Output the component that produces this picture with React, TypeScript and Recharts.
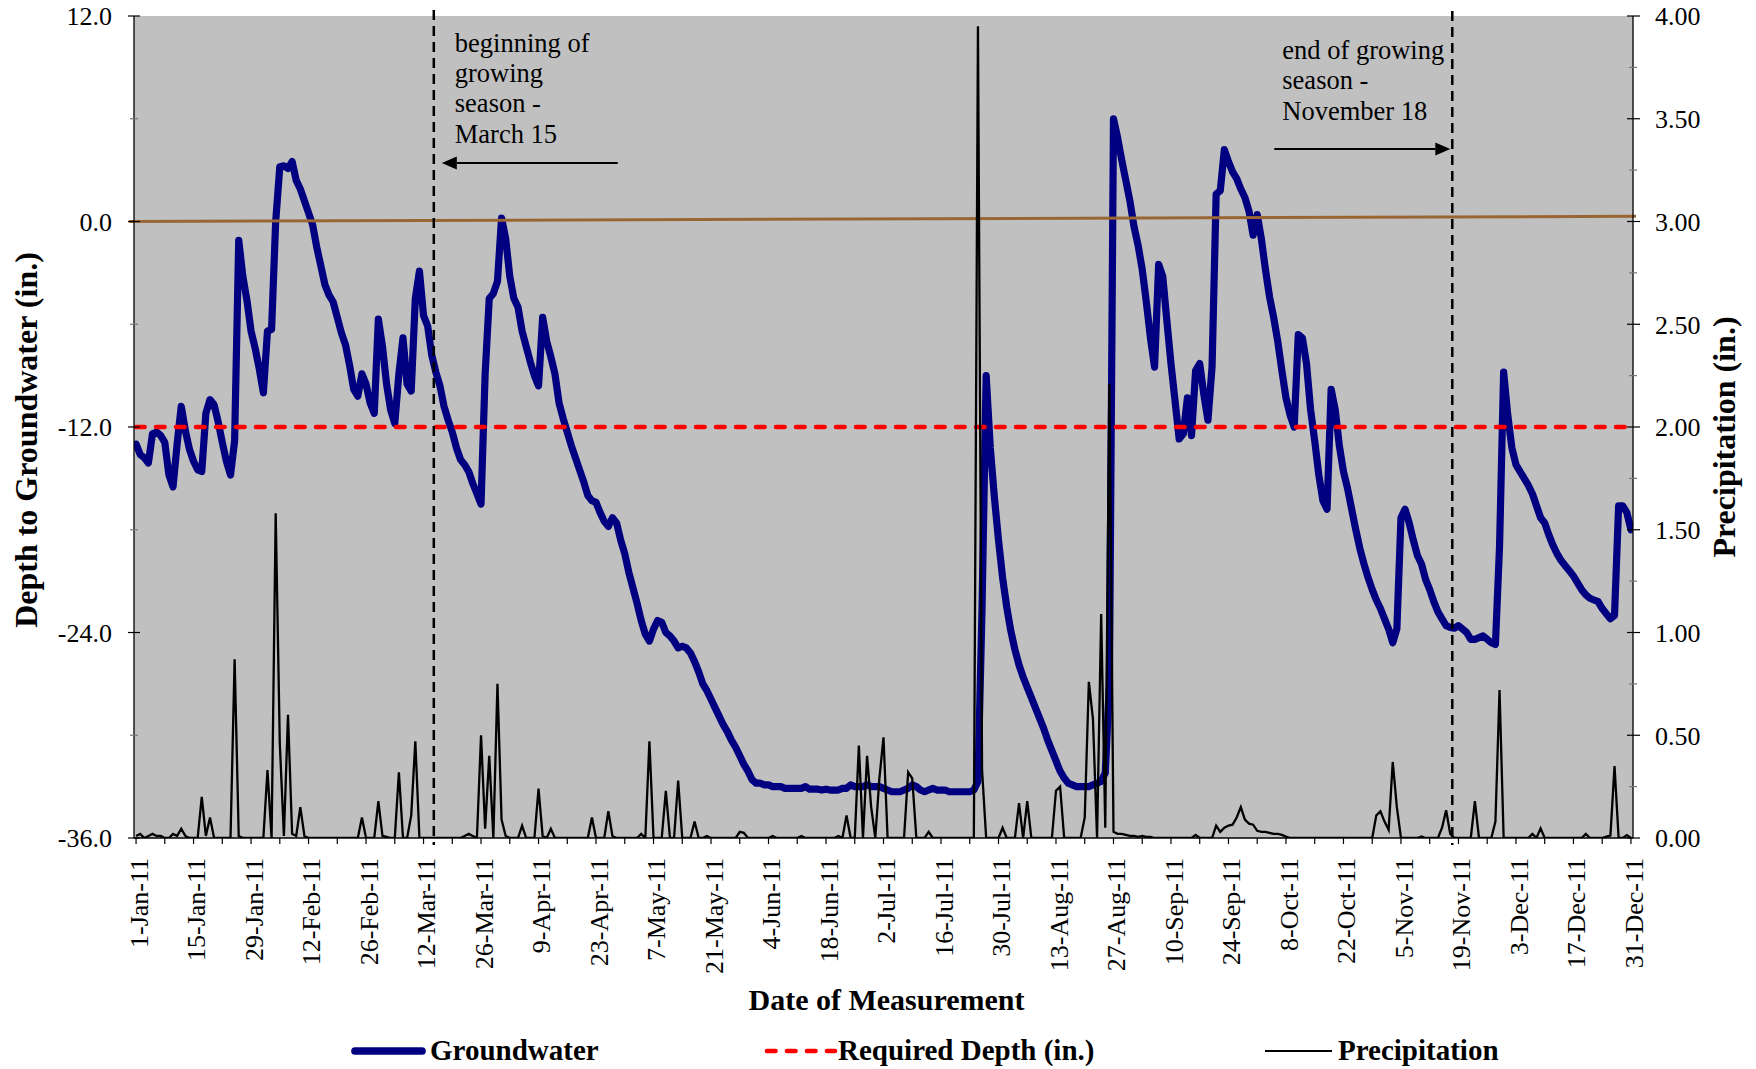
import React from 'react';
import { ComposedChart, Line, XAxis, YAxis, CartesianGrid, ReferenceLine } from 'recharts';

const FONT = "'Liberation Serif', 'Times New Roman', Times, serif";

// ---- Groundwater depth (in.), one value per day, by month ----
const gwJan = [-13.0, -13.6, -13.8, -14.1, -12.4, -12.3, -12.5, -12.9, -14.8, -15.5, -13.0, -10.8, -12.2, -13.3, -14.0, -14.5, -14.6, -11.2, -10.4, -10.7, -11.7, -12.9, -14.0, -14.8, -12.8, -1.1, -3.2, -4.6, -6.4, -7.4, -8.6];
const gwFeb = [-10.0, -6.4, -6.3, 0.0, 3.2, 3.25, 3.1, 3.5, 2.4, 1.9, 1.2, 0.5, -0.2, -1.5, -2.6, -3.7, -4.3, -4.7, -5.6, -6.5, -7.2, -8.4, -9.8, -10.2, -8.9, -9.5, -10.6, -11.2];
const gwMar = [-5.7, -7.3, -9.5, -11.0, -11.8, -8.9, -6.8, -9.5, -9.9, -4.5, -2.9, -5.5, -6.1, -7.8, -8.8, -9.6, -10.8, -11.6, -12.3, -13.2, -13.9, -14.2, -14.6, -15.3, -15.9, -16.5, -8.9, -4.5, -4.2, -3.5, 0.2];
const gwApr = [-1.0, -3.2, -4.5, -5.0, -6.4, -7.3, -8.2, -9.0, -9.6, -5.6, -7.0, -7.9, -8.9, -10.6, -11.5, -12.3, -13.1, -13.8, -14.5, -15.2, -16.0, -16.3, -16.4, -17.0, -17.5, -17.8, -17.3, -17.6, -18.6, -19.4];
const gwMay = [-20.5, -21.4, -22.3, -23.3, -24.1, -24.5, -23.8, -23.3, -23.4, -24.0, -24.2, -24.5, -24.9, -24.8, -24.9, -25.2, -25.7, -26.3, -27.0, -27.4, -27.9, -28.4, -28.9, -29.4, -29.8, -30.3, -30.7, -31.2, -31.7, -32.1, -32.6];
const gwJun = [-32.8, -32.8, -32.9, -32.9, -33.0, -33.0, -33.0, -33.1, -33.1, -33.1, -33.1, -33.1, -33.0, -33.15, -33.15, -33.15, -33.2, -33.15, -33.2, -33.2, -33.2, -33.1, -33.1, -32.9, -33.0, -33.0, -33.0, -32.9, -33.0, -33.0];
const gwJul = [-33.0, -33.1, -33.2, -33.3, -33.3, -33.3, -33.2, -33.1, -32.9, -33.0, -33.2, -33.3, -33.2, -33.1, -33.2, -33.2, -33.2, -33.3, -33.3, -33.3, -33.3, -33.3, -33.3, -33.2, -32.7, -22.5, -9.0, -13.2, -16.1, -18.6, -20.8];
const gwAug = [-22.5, -23.9, -25.0, -25.9, -26.6, -27.2, -27.8, -28.4, -29.0, -29.6, -30.3, -30.9, -31.5, -32.1, -32.5, -32.8, -32.9, -33.0, -33.0, -33.0, -33.0, -32.9, -32.8, -32.7, -32.2, -27.0, 6.0, 4.9, 3.6, 2.4, 1.2];
const gwSep = [-0.3, -1.4, -2.8, -4.7, -6.8, -8.5, -2.5, -3.2, -5.8, -8.3, -10.5, -12.7, -12.4, -10.3, -12.5, -8.7, -8.3, -10.1, -11.6, -8.5, 1.6, 1.8, 4.2, 3.5, 2.9, 2.5, 1.9, 1.4, 0.6, -0.8];
const gwOct = [0.4, -1.0, -2.8, -4.4, -5.6, -7.0, -8.7, -10.3, -11.3, -12.0, -6.6, -6.8, -8.3, -11.0, -12.8, -14.8, -16.3, -16.8, -9.8, -11.0, -13.1, -14.6, -15.6, -16.8, -18.0, -19.1, -20.0, -20.8, -21.5, -22.1, -22.6];
const gwNov = [-23.2, -23.8, -24.6, -23.8, -17.3, -16.8, -17.6, -18.6, -19.5, -20.0, -20.9, -21.5, -22.2, -22.8, -23.2, -23.6, -23.7, -23.75, -23.6, -23.8, -24.0, -24.4, -24.4, -24.3, -24.2, -24.4, -24.6, -24.7, -19.0, -8.8];
const gwDec = [-11.3, -13.2, -14.2, -14.6, -15.0, -15.4, -15.9, -16.6, -17.3, -17.6, -18.3, -18.9, -19.4, -19.8, -20.1, -20.4, -20.7, -21.1, -21.5, -21.8, -22.0, -22.1, -22.2, -22.6, -22.9, -23.2, -23.0, -16.6, -16.6, -17.0, -18.0];

// ---- Daily precipitation (in.), by month ----
const prJan = [0.01, 0.02, 0, 0.01, 0.02, 0.01, 0.01, 0, 0, 0.02, 0.01, 0.045, 0.01, 0, 0, 0, 0.2, 0.01, 0.1, 0, 0, 0, 0, 0, 0.87, 0.01, 0, 0, 0, 0, 0];
const prFeb = [0, 0.33, 0, 1.58, 0.46, 0.01, 0.6, 0.02, 0.01, 0.15, 0.01, 0, 0, 0, 0, 0, 0, 0, 0, 0, 0, 0, 0, 0, 0.1, 0, 0, 0];
const prMar = [0.18, 0.01, 0.005, 0, 0, 0.32, 0, 0, 0.11, 0.47, 0, 0, 0, 0, 0, 0, 0, 0, 0, 0, 0, 0.01, 0.02, 0.01, 0, 0.5, 0.045, 0.4, 0, 0.75, 0.09];
const prApr = [0.01, 0, 0, 0, 0.06, 0, 0, 0, 0.24, 0.01, 0, 0.045, 0, 0, 0, 0, 0, 0, 0, 0, 0, 0.1, 0, 0, 0, 0.13, 0.01, 0, 0, 0];
const prMay = [0, 0, 0, 0.02, 0, 0.47, 0, 0, 0, 0.23, 0, 0, 0.28, 0, 0, 0, 0.08, 0, 0, 0.01, 0, 0, 0, 0, 0, 0, 0, 0.03, 0.025, 0, 0];
const prJun = [0, 0, 0, 0, 0.01, 0, 0, 0, 0, 0, 0, 0.01, 0, 0, 0, 0, 0, 0, 0, 0, 0.01, 0, 0.11, 0, 0, 0.45, 0, 0.4, 0.15, 0];
const prJul = [0.29, 0.49, 0, 0, 0, 0, 0, 0.32, 0.29, 0, 0, 0, 0.03, 0, 0, 0, 0, 0, 0, 0, 0, 0, 0, 0, 3.95, 0.33, 0, 0, 0, 0, 0.05];
const prAug = [0, 0, 0, 0.17, 0, 0.18, 0, 0, 0, 0, 0, 0, 0.23, 0.25, 0, 0, 0, 0, 0, 0.1, 0.76, 0.58, 0, 1.09, 0.05, 2.21, 0.03, 0.02, 0.02, 0.015, 0.01];
const prSep = [0.01, 0.005, 0.01, 0.005, 0.005, 0, 0, 0, 0, 0, 0, 0, 0, 0, 0, 0.015, 0, 0, 0, 0, 0.06, 0.03, 0.05, 0.06, 0.065, 0.1, 0.15, 0.09, 0.07, 0.065];
const prOct = [0.035, 0.03, 0.03, 0.025, 0.02, 0.02, 0.015, 0.007, 0, 0, 0, 0, 0, 0, 0, 0, 0, 0, 0, 0, 0, 0, 0, 0, 0, 0, 0, 0, 0, 0.11, 0.13];
const prNov = [0.08, 0.04, 0.37, 0.15, 0, 0, 0, 0, 0, 0.007, 0, 0, 0, 0, 0.05, 0.135, 0.02, 0, 0, 0, 0, 0, 0.18, 0, 0, 0, 0, 0.08, 0.72, 0];
const prDec = [0, 0, 0, 0, 0, 0, 0.02, 0, 0.047, 0, 0, 0, 0, 0, 0, 0, 0, 0, 0, 0.02, 0, 0, 0, 0, 0.007, 0.012, 0.35, 0, 0, 0.014, 0];

const requiredDepth = -12;

// ground surface line (brown), from first to last day
const groundDays = [0, 364];
const groundLevel = [0.0, 0.3];

// growing-season markers (day index, boundary of the day)
const seasonStartDay = 72.5;
const seasonEndDay = 320.5;
const seasonStartText = ['beginning of', 'growing', 'season -', 'March 15'];
const seasonEndText = ['end of growing', 'season -', 'November 18'];

// axis ticks
const xTickDays = Array.from({ length: 53 }, (_, i) => i * 7);
const xLabelDays = [0, 14, 28, 42, 56, 70, 84, 98, 112, 126, 140, 154, 168, 182, 196, 210, 224, 238, 252, 266, 280, 294, 308, 322, 336, 350, 364];
const xTickLabels = ['1-Jan-11', '15-Jan-11', '29-Jan-11', '12-Feb-11', '26-Feb-11', '12-Mar-11', '26-Mar-11', '9-Apr-11', '23-Apr-11', '7-May-11', '21-May-11', '4-Jun-11', '18-Jun-11', '2-Jul-11', '16-Jul-11', '30-Jul-11', '13-Aug-11', '27-Aug-11', '10-Sep-11', '24-Sep-11', '8-Oct-11', '22-Oct-11', '5-Nov-11', '19-Nov-11', '3-Dec-11', '17-Dec-11', '31-Dec-11'];
const leftTicks = [-36, -30, -24, -18, -12, -6, 0, 6, 12];
const leftMajor = [-36, -24, -12, 0, 12];
const rightTicks = [0, 0.25, 0.5, 0.75, 1, 1.25, 1.5, 1.75, 2, 2.25, 2.5, 2.75, 3, 3.25, 3.5, 3.75, 4];

const groundwater = [...gwJan, ...gwFeb, ...gwMar, ...gwApr, ...gwMay, ...gwJun, ...gwJul, ...gwAug, ...gwSep, ...gwOct, ...gwNov, ...gwDec];
const precipitation = [...prJan, ...prFeb, ...prMar, ...prApr, ...prMay, ...prJun, ...prJul, ...prAug, ...prSep, ...prOct, ...prNov, ...prDec];

const data = groundwater.map((g, i) => ({
  day: i,
  groundwater: g,
  required: requiredDepth,
  precipitation: precipitation[i],
}));

const W = 1756;
const H = 1069;

const LeftTick = (props: any) => {
  const { x, y, payload } = props;
  const v = payload.value;
  const major = leftMajor.includes(v);
  return (
    <g>
      <line x1={x - (major ? 6 : 4)} x2={x + (major ? 6 : 4)} y1={y} y2={y} stroke={major ? '#000' : '#777'} strokeWidth={1.2} />
      {major && (
        <text x={x - 22} y={y} dy="0.36em" textAnchor="end" fontFamily={FONT} fontSize={26} fill="#000">
          {v.toFixed(1)}
        </text>
      )}
    </g>
  );
};

const RightTick = (props: any) => {
  const { x, y, payload } = props;
  const v = payload.value;
  const major = Math.abs(v * 2 - Math.round(v * 2)) < 1e-6;
  return (
    <g>
      <line x1={x - (major ? 6 : 4)} x2={x + (major ? 7 : 4)} y1={y} y2={y} stroke={major ? '#000' : '#777'} strokeWidth={1.2} />
      {major && (
        <text x={x + 22} y={y} dy="0.36em" textAnchor="start" fontFamily={FONT} fontSize={26} fill="#000">
          {v.toFixed(2)}
        </text>
      )}
    </g>
  );
};

const XTick = (props: any) => {
  const { x, y, payload } = props;
  const idx = xLabelDays.indexOf(payload.value);
  const ty = y + 20;
  return (
    <g>
      <line x1={x} x2={x} y1={y} y2={y + 6} stroke="#000" strokeWidth={1.2} />
      {idx >= 0 && (
        <text
          x={x}
          y={ty}
          dy="0.45em"
          transform={`rotate(-90 ${x} ${ty})`}
          textAnchor="end"
          fontFamily={FONT}
          fontSize={26}
          fill="#000"
        >
          {xTickLabels[idx]}
        </text>
      )}
    </g>
  );
};

const LeftTitle = (props: any) => {
  const vb = props.viewBox || { x: 0, y: 16, width: 134, height: 822 };
  const x = vb.x + 37;
  const y = vb.y + vb.height / 2 + 13;
  return (
    <text x={x} y={y} transform={`rotate(-90 ${x} ${y})`} textAnchor="middle" fontFamily={FONT} fontWeight="bold" fontSize={32} fill="#000">
      Depth to Groundwater (in.)
    </text>
  );
};

const RightTitle = (props: any) => {
  const vb = props.viewBox || { x: 1633, y: 16, width: 123, height: 822 };
  const x = vb.x + 102;
  const y = vb.y + vb.height / 2 + 10;
  return (
    <text x={x} y={y} transform={`rotate(-90 ${x} ${y})`} textAnchor="middle" fontFamily={FONT} fontWeight="bold" fontSize={32} fill="#000">
      Precipitation (in.)
    </text>
  );
};

const XTitleLegend = (props: any) => {
  const vb = props.viewBox || { x: 134, y: 838, width: 1499, height: 231 };
  const cx = vb.x + vb.width / 2 + 3;
  const sy = vb.y + 213;
  const ty = vb.y + 222;
  const lx = vb.x;
  return (
    <g>
      <text x={cx} y={vb.y + 172} textAnchor="middle" fontFamily={FONT} fontWeight="bold" fontSize={30} fill="#000">
        Date of Measurement
      </text>
      <line x1={lx + 221} x2={lx + 288} y1={sy} y2={sy} stroke="#000080" strokeWidth={7.7} strokeLinecap="round" />
      <text x={lx + 296} y={ty} fontFamily={FONT} fontWeight="bold" fontSize={29} fill="#000">Groundwater</text>
      <line x1={lx + 633} x2={lx + 701} y1={sy} y2={sy} stroke="#FF0000" strokeWidth={4.7} strokeDasharray="8.5 11.5" strokeLinecap="round" />
      <text x={lx + 704} y={ty} fontFamily={FONT} fontWeight="bold" fontSize={29} fill="#000">Required Depth (in.)</text>
      <line x1={lx + 1131} x2={lx + 1198} y1={sy} y2={sy} stroke="#000" strokeWidth={2} />
      <text x={lx + 1204} y={ty} fontFamily={FONT} fontWeight="bold" fontSize={29} fill="#000">Precipitation</text>
    </g>
  );
};

const GroundShape = (p: any) => {
  const { x1, y1, x2, y2 } = p;
  const dx = x2 - x1;
  const dy = y2 - y1;
  const len = Math.hypot(dx, dy) || 1;
  const ux = dx / len;
  const uy = dy / len;
  return <line x1={x1 - ux * 7} y1={y1 - uy * 7} x2={x2 + ux * 5} y2={y2 + uy * 5} stroke="#996633" strokeWidth={3} />;
};

const Arrow = ({ x1, x2, y }: { x1: number; x2: number; y: number }) => {
  // arrow from x1 (tail) to x2 (tip)
  const dir = x2 > x1 ? 1 : -1;
  const baseX = x2 - dir * 15;
  return (
    <g>
      <line x1={x1} x2={baseX} y1={y} y2={y} stroke="#000" strokeWidth={2} />
      <polygon points={`${x2},${y} ${baseX},${y - 6.5} ${baseX},${y + 6.5}`} fill="#000" />
    </g>
  );
};

const SeasonStartShape = (p: any) => {
  const x = p.x1;
  const top = Math.min(p.y1, p.y2);
  const bottom = Math.max(p.y1, p.y2);
  const offs = [36, 66, 96, 127];
  return (
    <g>
      <line x1={x} x2={x} y1={top - 6} y2={bottom + 7} stroke="#000" strokeWidth={2.5} strokeDasharray="10 6" />
      {seasonStartText.map((t, i) => (
        <text key={t} x={x + 21} y={top + offs[i]} fontFamily={FONT} fontSize={26.5} fill="#000">{t}</text>
      ))}
      <Arrow x1={x + 184} x2={x + 8} y={top + 147} />
    </g>
  );
};

const SeasonEndShape = (p: any) => {
  const x = p.x1;
  const top = Math.min(p.y1, p.y2);
  const bottom = Math.max(p.y1, p.y2);
  const offs = [43, 73, 104];
  return (
    <g>
      <line x1={x} x2={x} y1={top - 5} y2={bottom + 7} stroke="#000" strokeWidth={2.5} strokeDasharray="10 6" />
      {seasonEndText.map((t, i) => (
        <text key={t} x={x - 170} y={top + offs[i]} fontFamily={FONT} fontSize={26.5} fill="#000">{t}</text>
      ))}
      <Arrow x1={x - 178} x2={x - 2} y={top + 133} />
    </g>
  );
};

export default function App() {
  return (
    <div style={{ position: 'absolute', left: 0, top: 0, width: W, height: H, background: '#fff' }}>
      <ComposedChart width={W} height={H} data={data} margin={{ top: 16, right: 0, bottom: 0, left: 0 }}>
        <CartesianGrid yAxisId="left" horizontal={false} vertical={false} fill="#C0C0C0" stroke="none" />
        <XAxis
          dataKey="day"
          type="number"
          domain={[-0.5, 364.5]}
          ticks={xTickDays}
          interval={0}
          allowDataOverflow
          tick={<XTick />}
          tickLine={false}
          tickSize={0}
          tickMargin={0}
          height={231}
          axisLine={{ stroke: '#000', strokeWidth: 1.5 }}
          label={{ content: <XTitleLegend /> }}
        />
        <YAxis
          yAxisId="left"
          orientation="left"
          type="number"
          domain={[-36, 12]}
          ticks={leftTicks}
          interval={0}
          allowDataOverflow
          width={134}
          tick={<LeftTick />}
          tickLine={false}
          tickSize={0}
          tickMargin={0}
          axisLine={{ stroke: '#000', strokeWidth: 1.3 }}
          label={{ content: <LeftTitle /> }}
        />
        <YAxis
          yAxisId="right"
          orientation="right"
          type="number"
          domain={[0, 4]}
          ticks={rightTicks}
          interval={0}
          allowDataOverflow
          width={123}
          tick={<RightTick />}
          tickLine={false}
          tickSize={0}
          tickMargin={0}
          axisLine={{ stroke: '#000', strokeWidth: 1.3 }}
          label={{ content: <RightTitle /> }}
        />
        <Line
          yAxisId="left"
          type="linear"
          dataKey="groundwater"
          name="Groundwater"
          stroke="#000080"
          strokeWidth={7.2}
          strokeLinejoin="round"
          strokeLinecap="round"
          dot={false}
          activeDot={false}
          isAnimationActive={false}
        />
        <Line
          yAxisId="left"
          type="linear"
          dataKey="required"
          name="Required Depth (in.)"
          stroke="#FF0000"
          strokeWidth={4.7}
          strokeDasharray="8.5 11.5"
          strokeLinecap="round"
          dot={false}
          activeDot={false}
          isAnimationActive={false}
        />
        <ReferenceLine
          yAxisId="left"
          segment={[
            { x: groundDays[0], y: groundLevel[0] },
            { x: groundDays[1], y: groundLevel[1] },
          ]}
          stroke="#996633"
          strokeWidth={3}
          shape={GroundShape}
        />
        <Line
          yAxisId="right"
          type="linear"
          dataKey="precipitation"
          name="Precipitation"
          stroke="#000"
          strokeWidth={2.3}
          dot={false}
          activeDot={false}
          isAnimationActive={false}
        />
        <ReferenceLine yAxisId="left" x={seasonStartDay} stroke="#000" shape={SeasonStartShape} />
        <ReferenceLine yAxisId="left" x={seasonEndDay} stroke="#000" shape={SeasonEndShape} />
      </ComposedChart>
    </div>
  );
}
